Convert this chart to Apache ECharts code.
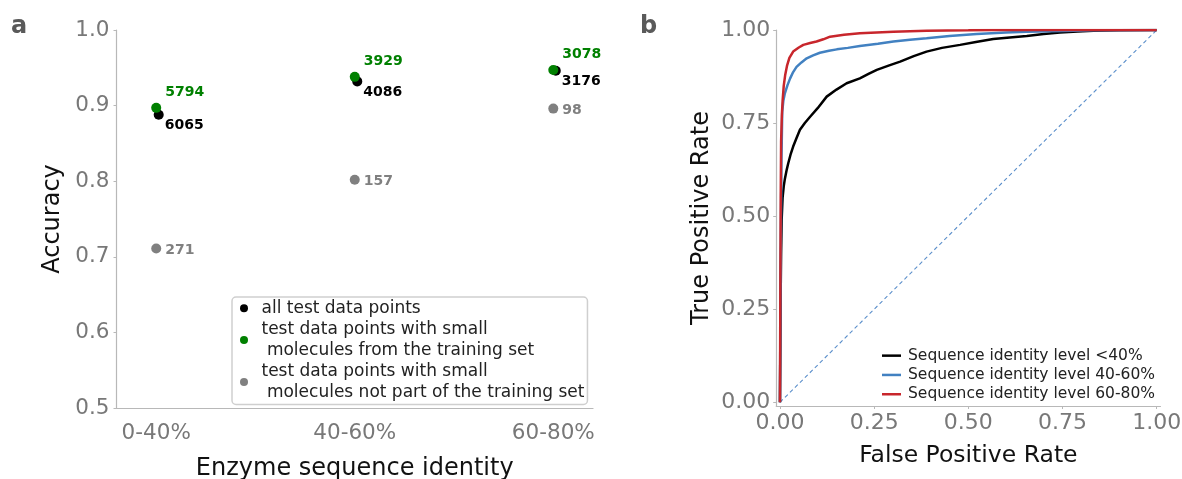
<!DOCTYPE html>
<html>
<head>
<meta charset="utf-8">
<script src="https://cdn.jsdelivr.net/npm/echarts@6/dist/echarts.min.js"></script>
<style>
html,body{margin:0;padding:0;background:#fff;}
#chart{width:1182px;height:479px;}
</style>
</head>
<body>
<div id="chart"></div>
<script>
// ---------- Panel a data ----------
const categories = ['0-40%', '40-60%', '60-80%'];
const accAll = [0.888, 0.932, 0.946];
const accTrain = [0.897, 0.938, 0.947];
const accNotTrain = [0.711, 0.802, 0.896];
const nAll = [6065, 4086, 3176];
const nTrain = [5794, 3929, 3078];
const nNotTrain = [271, 157, 98];
const accTicks = [0.5, 0.6, 0.7, 0.8, 0.9, 1.0];

// ---------- Panel b data (ROC curves, [FPR, TPR]) ----------
const rocLow = [[0,0],[0.001,0.15],[0.002,0.3],[0.003,0.4],[0.0045,0.49],[0.007,0.55],[0.01,0.58],[0.013,0.6],[0.018,0.625],[0.022,0.642],[0.028,0.665],[0.035,0.687],[0.044,0.71],[0.053,0.732],[0.066,0.75],[0.08,0.767],[0.1,0.79],[0.124,0.821],[0.15,0.84],[0.177,0.857],[0.212,0.87],[0.235,0.882],[0.257,0.893],[0.29,0.905],[0.319,0.915],[0.355,0.93],[0.389,0.942],[0.43,0.952],[0.478,0.96],[0.52,0.968],[0.566,0.976],[0.61,0.98],[0.655,0.984],[0.7,0.989],[0.743,0.993],[0.79,0.996],[0.832,0.998],[0.9,0.999],[1,1]];
const rocMid = [[0,0],[0.001,0.2],[0.002,0.4],[0.004,0.65],[0.006,0.78],[0.009,0.81],[0.013,0.83],[0.02,0.852],[0.027,0.87],[0.035,0.887],[0.044,0.901],[0.057,0.913],[0.071,0.924],[0.088,0.932],[0.106,0.939],[0.13,0.944],[0.151,0.948],[0.18,0.952],[0.212,0.957],[0.26,0.963],[0.301,0.969],[0.345,0.974],[0.389,0.978],[0.45,0.984],[0.522,0.989],[0.6,0.993],[0.655,0.995],[0.75,0.997],[0.831,0.999],[1,1]];
const rocHigh = [[0,0],[0.001,0.3],[0.002,0.55],[0.003,0.7],[0.005,0.77],[0.007,0.81],[0.01,0.85],[0.014,0.88],[0.019,0.905],[0.025,0.925],[0.035,0.942],[0.05,0.953],[0.062,0.96],[0.08,0.965],[0.097,0.969],[0.115,0.975],[0.133,0.982],[0.17,0.987],[0.212,0.991],[0.301,0.995],[0.389,0.998],[0.5,0.999],[0.566,1.0],[1,1]];
const diagonal = [[0,0],[1,1]];
const rateTicks = [0, 0.25, 0.5, 0.75, 1.0];

const FONT = 'DejaVu Sans';
const TICK_COLOR = '#787878';
const AXIS_COLOR = '#b8b8b8';

const names = {
  all: 'all test data points',
  train: 'test data points with small\n molecules from the training set',
  notTrain: 'test data points with small\n molecules not part of the training set',
  low: 'Sequence identity level <40%',
  mid: 'Sequence identity level 40-60%',
  high: 'Sequence identity level 60-80%'
};

function pts(vals) { return vals.map((v, i) => [i, v]); }

function scatterSeries(name, vals, counts, color, dist, off, symOff) {
  return {
    name: name, type: 'scatter', xAxisIndex: 0, yAxisIndex: 0,
    data: pts(vals), symbolSize: 10, symbolOffset: symOff,
    itemStyle: { color: color, opacity: 1 },
    label: {
      show: true, position: 'right', distance: dist, offset: off,
      formatter: p => String(counts[p.dataIndex]),
      fontFamily: FONT, fontWeight: 'bold', fontSize: 14, color: color
    }
  };
}

function lineSeries(name, data, color) {
  return {
    name: name, type: 'line', xAxisIndex: 1, yAxisIndex: 1,
    data: data, showSymbol: false, symbol: 'none',
    lineStyle: { color: color, width: 2.5 }, itemStyle: { color: color }
  };
}

const chart = echarts.init(document.getElementById('chart'), null, { renderer: 'canvas' });
chart.setOption({
  animation: false,
  backgroundColor: '#ffffff',
  textStyle: { fontFamily: FONT },
  graphic: [
    { type: 'text', left: 11, top: 15, style: { text: 'a', font: 'bold 24px "DejaVu Sans"', fill: '#5a5a5a' } },
    { type: 'text', left: 640, top: 15, style: { text: 'b', font: 'bold 24px "DejaVu Sans"', fill: '#5a5a5a' } }
  ],
  grid: [
    { left: 116.5, top: 30, width: 476.5, height: 378, containLabel: false, outerBoundsMode: 'none' },
    { left: 776.2, top: 30, width: 384.3, height: 376, containLabel: false, outerBoundsMode: 'none' }
  ],
  xAxis: [
    {
      gridIndex: 0, type: 'value', min: -0.2, max: 2.2,
      name: 'Enzyme sequence identity', nameLocation: 'middle', nameGap: 49,
      nameTextStyle: { fontFamily: FONT, fontSize: 24, color: '#111' },
      axisLine: { show: true, onZero: false, lineStyle: { color: AXIS_COLOR, width: 1.2 } },
      axisTick: { show: false },
      splitLine: { show: false },
      axisLabel: {
        customValues: [0, 1, 2], margin: 14,
        formatter: v => categories[Math.round(v)] || '',
        fontFamily: FONT, fontSize: 21.5, color: TICK_COLOR
      }
    },
    {
      gridIndex: 1, type: 'value', min: -0.01, max: 1.01,
      name: 'False Positive Rate', nameLocation: 'middle', nameGap: 38,
      nameTextStyle: { fontFamily: FONT, fontSize: 23.5, color: '#111' },
      axisLine: { show: true, onZero: false, lineStyle: { color: AXIS_COLOR, width: 1.2 } },
      axisTick: { show: true, customValues: rateTicks, length: 3, lineStyle: { color: AXIS_COLOR } },
      splitLine: { show: false },
      axisLabel: {
        customValues: rateTicks, margin: 6,
        formatter: v => v.toFixed(2),
        fontFamily: FONT, fontSize: 22, color: TICK_COLOR
      }
    }
  ],
  yAxis: [
    {
      gridIndex: 0, type: 'value', min: 0.5, max: 1.0, interval: 0.1,
      name: 'Accuracy', nameLocation: 'middle', nameGap: 52,
      nameTextStyle: { fontFamily: FONT, fontSize: 24, color: '#111' },
      axisLine: { show: true, onZero: false, lineStyle: { color: AXIS_COLOR, width: 1.2 } },
      axisTick: { show: true, length: 3, lineStyle: { color: AXIS_COLOR } },
      splitLine: { show: false },
      axisLabel: {
        customValues: accTicks, margin: 7,
        formatter: v => v.toFixed(1),
        fontFamily: FONT, fontSize: 21.5, color: TICK_COLOR
      }
    },
    {
      gridIndex: 1, type: 'value', min: -0.01, max: 1.0,
      name: 'True Positive Rate', nameLocation: 'middle', nameGap: 62,
      nameTextStyle: { fontFamily: FONT, fontSize: 24, color: '#111' },
      axisLine: { show: true, onZero: false, lineStyle: { color: AXIS_COLOR, width: 1.2 } },
      axisTick: { show: true, customValues: rateTicks, length: 3, lineStyle: { color: AXIS_COLOR } },
      splitLine: { show: false },
      axisLabel: {
        customValues: rateTicks, margin: 6,
        formatter: v => v.toFixed(2),
        fontFamily: FONT, fontSize: 22, color: TICK_COLOR
      }
    }
  ],
  legend: [
    {
      data: [names.all, names.train, names.notTrain],
      orient: 'vertical', left: 232, top: 297,
      padding: [1, 3, 2, 8], itemGap: 1,
      icon: 'circle', itemWidth: 8, itemHeight: 8,
      backgroundColor: 'rgba(255,255,255,0.85)',
      borderColor: '#cfcfcf', borderWidth: 1.5, borderRadius: 4,
      selectedMode: false,
      textStyle: { fontFamily: FONT, fontSize: 17, lineHeight: 20.5, color: '#222', padding: [0, 0, 0, 8.5] }
    },
    {
      data: [names.low, names.mid, names.high],
      orient: 'vertical', left: 882, top: 346,
      padding: 0, itemGap: 0,
      icon: 'rect', itemWidth: 19, itemHeight: 2.5, symbolKeepAspect: false,
      selectedMode: false,
      textStyle: { fontFamily: FONT, fontSize: 15.5, lineHeight: 19.3, color: '#222', padding: [0, 0, 0, 2] }
    }
  ],
  series: [
    scatterSeries(names.all, accAll, nAll, '#000000', 1, [0, 11], [2.5, 0]),
    scatterSeries(names.train, accTrain, nTrain, '#008000', 4, [0, -16], [0, 0]),
    scatterSeries(names.notTrain, accNotTrain, nNotTrain, '#808080', 4, [0, 2], [0, 0]),
    {
      name: 'diagonal', type: 'line', xAxisIndex: 1, yAxisIndex: 1,
      data: diagonal, showSymbol: false, symbol: 'none',
      lineStyle: { color: '#5b8fcb', width: 1.1, type: [4, 3] }
    },
    lineSeries(names.low, rocLow, '#000000'),
    lineSeries(names.mid, rocMid, '#4281c1'),
    lineSeries(names.high, rocHigh, '#c8262c')
  ]
});
</script>
</body>
</html>
